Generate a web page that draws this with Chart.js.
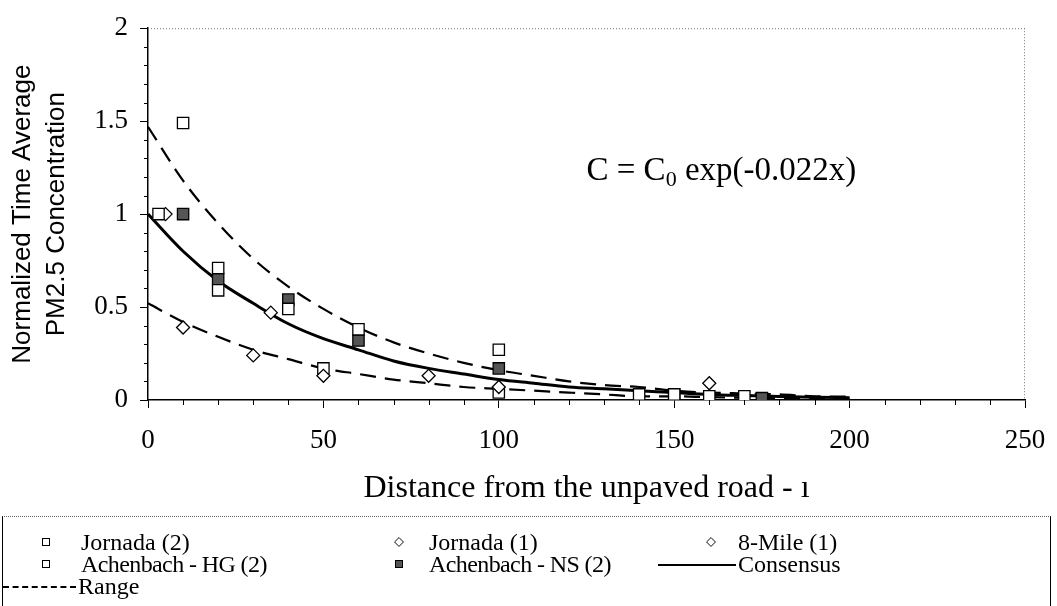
<!DOCTYPE html>
<html>
<head>
<meta charset="utf-8">
<script src="https://cdn.jsdelivr.net/npm/chart.js@4.4.1/dist/chart.umd.min.js"></script>
<style>
  html, body { margin: 0; padding: 0; background: #fff; }
  #wrap { position: relative; width: 1057px; height: 606px; overflow: hidden; }
  #wrap canvas { position: absolute; left: 0; top: 0; }
  #legend { position: absolute; left: 2px; top: 516px; width: 1049px; height: 100px;
    border: 1px solid #000; border-top: 1px dotted #666; box-sizing: border-box;
    font-family: "Liberation Serif", "Times New Roman", serif; font-size: 24px; color: #000; }
  .item { position: absolute; white-space: nowrap; line-height: 22px; }
  .mk { position: absolute; box-sizing: border-box; }
</style>
</head>
<body>
<div id="wrap">
  <canvas id="c" width="1057" height="606"></canvas>
  <div id="legend"></div>
</div>
<script>
// ---- data ----
const jornada2X = [3, 10, 20, 60, 100, 140, 150, 160, 170];
const jornada2Y = [1.0, 1.49, 0.71, 0.38, 0.27, 0.03, 0.03, 0.02, 0.02];
const jornada1X = [5, 10, 30, 50, 100];
const jornada1Y = [1.0, 0.39, 0.24, 0.13, 0.07];
const mile8X = [35, 80, 160];
const mile8Y = [0.47, 0.13, 0.09];
const achHGX = [20, 40, 50, 100];
const achHGY = [0.59, 0.49, 0.17, 0.04];
const achNSX = [10, 20, 40, 60, 100, 150, 175];
const achNSY = [1.0, 0.65, 0.54, 0.32, 0.17, 0.03, 0.01];
const curveX = [0, 10, 20, 30, 40, 50, 60, 70, 80, 90, 100, 110, 120, 130, 140, 150, 160, 170, 180, 190, 200];
const consensusY = [1.0, 0.80, 0.64, 0.52, 0.41, 0.33, 0.27, 0.21, 0.17, 0.14, 0.11, 0.09, 0.07, 0.06, 0.05, 0.04, 0.03, 0.024, 0.019, 0.015, 0.012];
const rangeHighY = [1.47, 1.18, 0.95, 0.76, 0.61, 0.49, 0.39, 0.31, 0.25, 0.20, 0.16, 0.13, 0.10, 0.08, 0.07, 0.05, 0.04, 0.035, 0.03, 0.02, 0.018];
const rangeLowY = [0.52, 0.42, 0.34, 0.27, 0.22, 0.17, 0.14, 0.11, 0.09, 0.07, 0.06, 0.05, 0.04, 0.03, 0.02, 0.02, 0.015, 0.012, 0.01, 0.008, 0.006];
const xTicks = [0, 50, 100, 150, 200, 250];
const yTicks = [0, 0.5, 1, 1.5, 2];
const xTitle = "Distance from the unpaved road - ı";
const yTitle = ["Normalized Time Average", "PM2.5 Concentration"];
const equationParts = ["C = C", "0", " exp(-0.022x)"];

const pts = (xs, ys) => xs.map((x, i) => ({ x: x, y: ys[i] }));
const SERIF = '"Liberation Serif", "Times New Roman", serif';
const SANS = '"Liberation Sans", Arial, sans-serif';

const markerDs = (label, xs, ys, style, fill, r) => ({
  label, data: pts(xs, ys), showLine: false, pointStyle: style,
  pointRadius: r, pointHoverRadius: r, pointBackgroundColor: fill,
  pointBorderColor: '#000', pointBorderWidth: 1.3, legendKind: 'marker'
});
const lineDs = (label, ys, width, dash, inLegend) => ({
  label, data: pts(curveX, ys), showLine: true, pointRadius: 0,
  borderColor: '#000', borderWidth: width, borderDash: dash,
  cubicInterpolationMode: 'monotone', fill: false, legendKind: 'line', inLegend
});

const datasets = [
  markerDs('Jornada (2)', jornada2X, jornada2Y, 'rect', '#fff', 8),
  markerDs('Jornada (1)', jornada1X, jornada1Y, 'rectRot', '#fff', 6.5),
  markerDs('8-Mile (1)', mile8X, mile8Y, 'rectRot', '#fff', 6.5),
  markerDs('Achenbach - HG (2)', achHGX, achHGY, 'rect', '#fff', 8),
  markerDs('Achenbach - NS (2)', achNSX, achNSY, 'rect', '#555', 8),
  lineDs('Consensus', consensusY, 3, [], true),
  lineDs('Range', rangeHighY, 2.2, [16, 9], true),
  lineDs('Range (low)', rangeLowY, 2.2, [16, 9], false)
];

const decor = {
  id: 'decor',
  afterDraw(chart) {
    const ctx = chart.ctx, xs = chart.scales.x, ys = chart.scales.y;
    const a = chart.chartArea;
    ctx.save();
    // dotted frame top/right
    ctx.strokeStyle = '#777'; ctx.lineWidth = 1; ctx.setLineDash([1, 2]);
    ctx.beginPath();
    ctx.moveTo(a.left, a.top + 0.5); ctx.lineTo(a.right, a.top + 0.5);
    ctx.moveTo(a.right - 0.5, a.top); ctx.lineTo(a.right - 0.5, a.bottom);
    ctx.stroke();
    ctx.setLineDash([]);
    // minor ticks
    ctx.strokeStyle = '#000'; ctx.lineWidth = 1;
    ctx.beginPath();
    for (let v = 10; v < 250; v += 10) {
      if (v % 50 === 0) continue;
      const px = Math.round(xs.getPixelForValue(v)) + 0.5;
      ctx.moveTo(px, a.bottom); ctx.lineTo(px, a.bottom + 5);
    }
    for (let k = 1; k < 20; k++) {
      if (k % 5 === 0) continue;
      const py = Math.round(ys.getPixelForValue(k / 10)) + 0.5;
      ctx.moveTo(a.left - 4, py); ctx.lineTo(a.left, py);
    }
    ctx.stroke();
    // equation
    ctx.fillStyle = '#000';
    ctx.textBaseline = 'alphabetic';
    ctx.font = '33px ' + SERIF;
    let ex = xs.getPixelForValue(125), ey = ys.getPixelForValue(1.185);
    ctx.fillText(equationParts[0], ex, ey);
    ex += ctx.measureText(equationParts[0]).width;
    ctx.font = '22px ' + SERIF;
    ctx.fillText(equationParts[1], ex, ey + 6);
    ex += ctx.measureText(equationParts[1]).width;
    ctx.font = '33px ' + SERIF;
    ctx.fillText(equationParts[2], ex, ey);
    ctx.restore();
  }
};

const chart = new Chart(document.getElementById('c'), {
  type: 'scatter',
  data: { datasets },
  options: {
    responsive: false, animation: false,
    layout: { padding: { top: 22, right: 32, bottom: 98, left: 0 } },
    plugins: { legend: { display: false }, tooltip: { enabled: false } },
    scales: {
      x: {
        type: 'linear', min: 0, max: 250,
        afterBuildTicks: s => { s.ticks = xTicks.map(v => ({ value: v })); },
        afterFit: s => { s.height = 108; s.paddingLeft = 0; s.paddingRight = 0; },
        ticks: { color: '#000', font: { family: SERIF, size: 27 }, padding: 17, maxRotation: 0 },
        grid: { display: true, drawOnChartArea: false, drawTicks: true, tickLength: 8, color: '#000', lineWidth: 1 },
        border: { display: true, color: '#000', width: 1.5 },
        title: { display: true, text: xTitle, color: '#000', font: { family: SERIF, size: 32 }, padding: { top: 0, bottom: 0 } }
      },
      y: {
        type: 'linear', min: 0, max: 2,
        afterBuildTicks: s => { s.ticks = yTicks.map(v => ({ value: v })); },
        afterFit: s => { s.width = 148; },
        ticks: { color: '#000', font: { family: SERIF, size: 27 }, padding: 12, callback: v => String(v) },
        grid: { display: true, drawOnChartArea: false, drawTicks: true, tickLength: 8, color: '#000', lineWidth: 1 },
        border: { display: true, color: '#000', width: 1.5 },
        title: { display: true, text: yTitle, color: '#000', font: { family: SANS, size: 26, lineHeight: 1.3 }, padding: { top: 6, bottom: 0 } }
      }
    }
  },
  plugins: [decor]
});

// ---- HTML legend built from the chart datasets ----
const legendEl = document.getElementById('legend');
const slots = [
  { mx: 43, tx: 78, y: 14 }, { mx: 396, tx: 426, y: 14 }, { mx: 708, tx: 735, y: 14 },
  { mx: 43, tx: 78, y: 36 }, { mx: 396, tx: 426, y: 36 }, { lx: 655, tx: 735, y: 36 },
  { lx: 0, tx: 75, y: 58 }
];
let si = 0;
chart.data.datasets.forEach(ds => {
  if (ds.legendKind === 'line' && !ds.inLegend) return;
  const s = slots[si++];
  if (!s) return;
  if (ds.legendKind === 'marker') {
    const m = document.createElement('span');
    m.className = 'mk';
    const sz = 8;
    m.style.width = sz + 'px'; m.style.height = sz + 'px';
    m.style.border = '1px solid #000';
    m.style.background = ds.pointBackgroundColor;
    m.style.left = (s.mx - sz / 2) + 'px';
    m.style.top = (s.y - sz / 2 + 11) + 'px';
    if (ds.pointStyle === 'rectRot') m.style.transform = 'rotate(45deg) scale(0.9)';
    legendEl.appendChild(m);
  } else {
    const l = document.createElement('span');
    l.className = 'mk';
    l.style.left = s.lx + 'px';
    l.style.width = (s.tx - s.lx - 2) + 'px';
    l.style.top = (s.y + 11) + 'px';
    l.style.height = '0px';
    l.style.borderTop = ds.borderDash.length ? '2px dashed #000' : '2px solid #000';
    legendEl.appendChild(l);
  }
  const t = document.createElement('span');
  t.className = 'item';
  t.textContent = ds.label;
  t.style.left = s.tx + 'px';
  t.style.top = s.y + 'px';
  if (ds.label.indexOf('Achenbach') === 0) t.style.letterSpacing = '-0.6px';
  legendEl.appendChild(t);
});
</script>
</body>
</html>
